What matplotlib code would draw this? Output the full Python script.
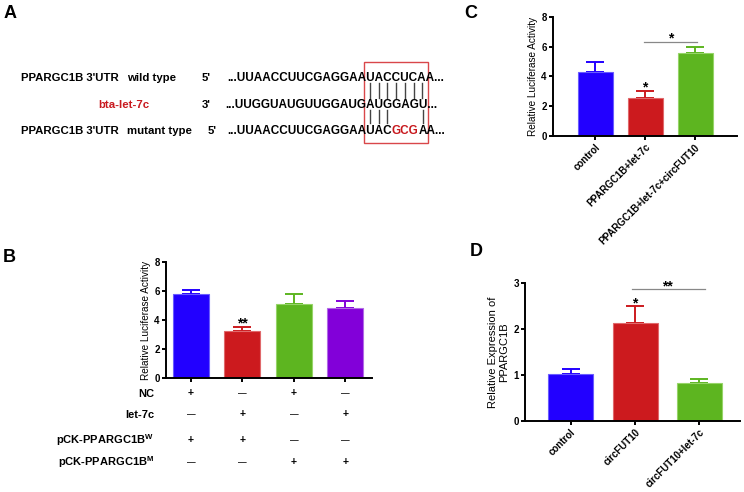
import numpy as np
import matplotlib
matplotlib.use("Agg")
import matplotlib.pyplot as plt
from matplotlib import transforms
from matplotlib.patches import Rectangle

plt.rcParams['font.family'] = ['Liberation Sans', 'DejaVu Sans']
plt.rcParams['mathtext.fontset'] = 'custom'
plt.rcParams['mathtext.rm'] = 'Liberation Sans'
plt.rcParams['mathtext.bf'] = 'Liberation Sans:bold'

# ---- data ----
colors = ['#2200ff', '#cc1a1e', '#5db520', '#8200d9']
edge_colors = ['#6a5cff', '#e0686b', '#96d468', '#b16ae6']

# panel B
b_rows = ['NC', 'let-7c', r'pCK-PPARGC1B$^{\mathbf{W}}$', r'pCK-PPARGC1B$^{\mathbf{M}}$']
b_signs = [['+', '—', '+', '—'],
           ['—', '+', '—', '+'],
           ['+', '+', '—', '—'],
           ['—', '—', '+', '+']]
b_means = [5.78, 3.23, 5.09, 4.82]
b_err = [0.32, 0.28, 0.67, 0.52]

# panel C
c_labels = ['control', 'PPARGC1B+let-7c', 'PPARGC1B+let-7c+circFUT10']
c_means = [4.31, 2.53, 5.61]
c_err = [0.65, 0.51, 0.40]

# panel D
d_labels = ['control', 'circFUT10', 'circFUT10+let-7c']
d_means = [1.02, 2.14, 0.82]
d_err = [0.12, 0.37, 0.10]

# panel A sequences (prefix, paired core, suffix)
wt_seq = ('...UUAACCUUCGAGGAA', 'UACCUCA', 'A...')
mir_seq = ('...UUGGUAUGUUGGAUG', 'AUGGAGU', '...')
mut_seq = ('...UUAACCUUCGAGGAA', 'UACGCGA', 'A...')
mut_red = 'GCG'
wt_pairs = [1, 1, 1, 1, 1, 1, 1]
mut_pairs = [1, 1, 1, 0, 0, 0, 1]

W, H = 744, 492
fig = plt.figure(figsize=(W / 100, H / 100), dpi=100)
renderer = fig.canvas.get_renderer()

# full-figure pixel axes for panel A and annotations
axA = fig.add_axes([0, 0, 1, 1], zorder=0)
axA.set_xlim(0, W)
axA.set_ylim(H, 0)
axA.axis('off')

red_txt = '#c8191e'


def tw(s, **kw):
    t = axA.text(0, 0, s, **kw)
    w = t.get_window_extent(renderer).width
    t.remove()
    return w


kwA = dict(fontsize=8.2, fontweight='bold')
kwS = dict(fontsize=8.5, fontweight='bold')

# left labels
for y, lab in [(78, 'wild type'), (131, 'mutant type')]:
    axA.text(21, y, "PPARGC1B 3'UTR", va='center', **kwA)
    axA.text(127, y, lab, va='center', **kwA)
axA.text(98, 105, 'bta-let-7c', va='center', color=red_txt, **kwA)
axA.text(202, 78, "5'", va='center', **kwA)
axA.text(202, 105, "3'", va='center', **kwA)
axA.text(208, 131, "5'", va='center', **kwA)

x_core = 366.0


def draw_row(seq, y, red=None):
    pre, core, suf = seq
    full = pre + core + suf
    x0 = x_core - (tw(pre + core[0], **kwS) - tw(core[0], **kwS))
    centers = []
    for i, ch in enumerate(core):
        right = x0 + tw(pre + core[:i + 1], **kwS)
        centers.append(right - tw(ch, **kwS) / 2)
    if red is None:
        axA.text(x0, y, full, va='center', **kwS)
    else:
        k = core.index(red)
        part1 = pre + core[:k]
        axA.text(x0, y, part1, va='center', **kwS)
        xr = x0 + tw(part1 + red[0], **kwS) - tw(red[0], **kwS)
        axA.text(xr, y, red, va='center', color=red_txt, **kwS)
        rest = core[k + len(red):] + suf
        xs = x0 + tw(part1 + red + rest[0], **kwS) - tw(rest[0], **kwS)
        axA.text(xs, y, rest, va='center', **kwS)
    return centers


c_wt = draw_row(wt_seq, 78)
c_mir = draw_row(mir_seq, 105)
c_mut = draw_row(mut_seq, 131, red=mut_red)

for i, p in enumerate(wt_pairs):
    if p:
        x = (c_wt[i] + c_mir[i]) / 2
        axA.plot([x, x], [83, 98], color='#444444', lw=1.0)
for i, p in enumerate(mut_pairs):
    if p:
        x = (c_mut[i] + c_mir[i]) / 2
        axA.plot([x, x], [110, 123], color='#444444', lw=1.0)

box_r = x_core + tw(wt_seq[1], **kwS) + 2
axA.add_patch(Rectangle((x_core - 2, 62), box_r - x_core + 2, 81,
                        fill=False, edgecolor='#d9474a', lw=1.0))

# panel letters
for x, y, s in [(4, 13, 'A'), (3, 257, 'B'), (464, 13, 'C'), (470, 252, 'D')]:
    axA.text(x, y, s, fontsize=13, fontweight='bold', va='center')


def px_axes(left, right, top, bottom):
    return fig.add_axes([left / W, (H - bottom) / H, (right - left) / W, (bottom - top) / H])


def style(ax):
    for s in ['top', 'right']:
        ax.spines[s].set_visible(False)
    for s in ['left', 'bottom']:
        ax.spines[s].set_linewidth(1.4)
    ax.tick_params(axis='both', length=3, width=1.4, pad=1.5, labelsize=7)
    for lab in ax.get_yticklabels():
        lab.set_fontweight('bold')


def bars(ax, means, err, cols):
    x = np.arange(len(means))
    for i in range(len(means)):
        ax.bar(x[i], means[i], width=0.7, color=colors[i], edgecolor=edge_colors[i],
               lw=0.8, zorder=2)
        ax.errorbar(x[i], means[i], yerr=[[0], [err[i]]], color=colors[i],
                    capsize=6.5, elinewidth=1.4, capthick=1.4, zorder=1)
    return x


# ---- panel B ----
axB = px_axes(166, 372, 262, 378)
xb = bars(axB, b_means, b_err, colors)
axB.set_xlim(-0.485, 3.52)
axB.set_ylim(0, 8)
axB.set_yticks([0, 2, 4, 6, 8])
axB.set_xticks(xb)
axB.set_xticklabels([])
style(axB)
axB.set_ylabel('Relative Luciferase Activity', fontsize=7.2, labelpad=2)
axB.text(xb[1], b_means[1] + b_err[1] - 0.25, '**', ha='center', va='bottom',
         fontsize=10, fontweight='bold')

tr = transforms.blended_transform_factory(axB.transData, axA.transData)
row_y = [393, 414, 440, 462]
for r, lab in enumerate(b_rows):
    axA.text(154, row_y[r] + 4, lab, ha='right', va='baseline', fontsize=8, fontweight='bold')
    for j, s in enumerate(b_signs[r]):
        if s == '+':
            axA.text(xb[j], row_y[r], s, transform=tr, ha='center', va='center',
                     fontsize=7.5, fontweight='bold')
        else:
            axA.text(xb[j], row_y[r] + 0.5, s, transform=tr, ha='center', va='center',
                     fontsize=6.2, fontweight='bold', color='#222222')

# ---- panel C ----
axC = px_axes(553, 737, 17, 136)
xc = bars(axC, c_means, c_err, colors)
axC.set_xlim(-0.84, 2.84)
axC.set_ylim(0, 8)
axC.set_yticks([0, 2, 4, 6, 8])
axC.set_xticks(xc)
axC.set_xticklabels(c_labels, rotation=45, ha='right', va='top', rotation_mode='anchor',
                    fontweight='bold')
style(axC)
axC.set_ylabel('Relative Luciferase Activity', fontsize=7.2, labelpad=2)
axC.text(xc[1], c_means[1] + c_err[1] - 0.25, '*', ha='center', va='bottom',
         fontsize=10, fontweight='bold')
axC.plot([0.98, 2.04], [6.35, 6.35], color='#888888', lw=0.9)
axC.text(1.51, 6.1, '*', ha='center', va='bottom', fontsize=10, fontweight='bold')

# ---- panel D ----
axD = px_axes(525, 740, 283, 421)
xd = bars(axD, d_means, d_err, colors)
axD.set_xlim(-0.71, 2.63)
axD.set_ylim(0, 3)
axD.set_yticks([0, 1, 2, 3])
axD.set_xticks(xd)
axD.set_xticklabels(d_labels, rotation=45, ha='right', va='top', rotation_mode='anchor',
                    fontweight='bold')
style(axD)
axD.set_ylabel('Relative Expression of\nPPARGC1B', fontsize=8, labelpad=3, linespacing=1.1)
axD.text(xd[1], d_means[1] + d_err[1] - 0.1, '*', ha='center', va='bottom',
         fontsize=10, fontweight='bold')
axD.plot([0.95, 2.08], [2.87, 2.87], color='#888888', lw=0.9)
axD.text(1.5, 2.78, '**', ha='center', va='bottom', fontsize=10, fontweight='bold')

fig.savefig('out.png', dpi=100)
